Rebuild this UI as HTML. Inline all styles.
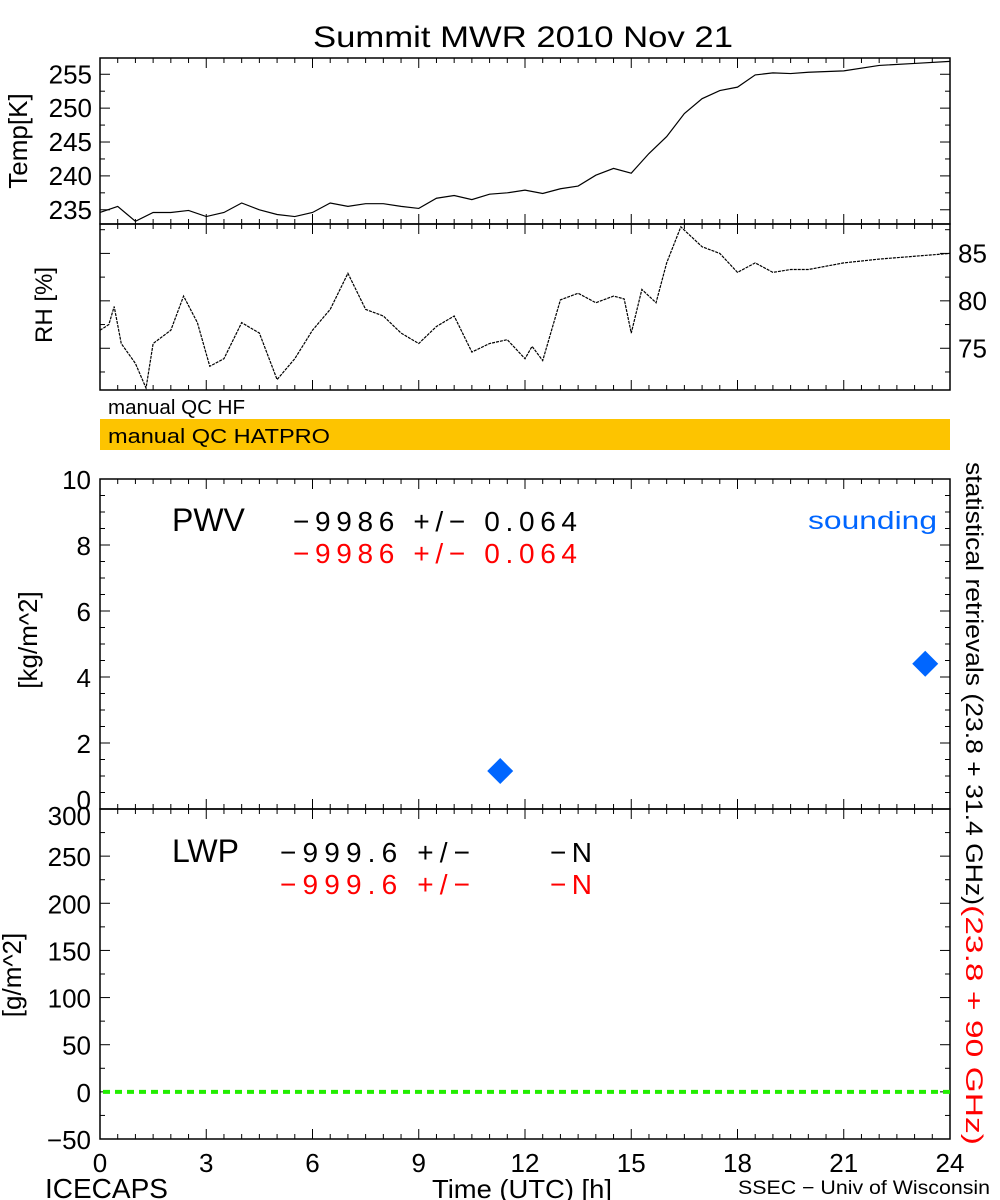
<!DOCTYPE html>
<html><head><meta charset="utf-8"><style>
body{margin:0;background:#fff;}
svg{display:block;font-family:"Liberation Sans",sans-serif;}
</style></head><body>
<svg id="c" width="1000" height="1200" viewBox="0 0 1000 1200"></svg>
<script>
// ---- data ----
const tempTimes = [0,0.5,1,1.5,2,2.5,3,3.5,4,4.5,5,5.5,6,6.5,7,7.5,8,8.5,9,9.5,10,10.5,11,11.5,12,12.5,13,13.5,14,14.5,15,15.5,16,16.5,17,17.5,18,18.5,19,19.5,20,21,22,23,24];
const tempValues = [234.6,235.5,233.3,234.6,234.6,234.9,234.0,234.6,236.0,235.0,234.3,234.0,234.6,236.0,235.5,235.9,235.9,235.5,235.2,236.7,237.1,236.5,237.3,237.5,237.9,237.4,238.1,238.5,240.1,241.1,240.4,243.3,245.8,249.2,251.4,252.6,253.1,254.9,255.2,255.1,255.3,255.5,256.3,256.6,256.9];
const rhTimes = [0,0.25,0.4,0.6,1,1.3,1.5,2,2.36,2.75,3.1,3.5,4,4.5,5,5.5,6,6.5,7,7.5,8,8.5,9,9.5,10,10.5,11,11.5,12,12.2,12.5,13,13.5,14,14.5,14.8,15,15.3,15.7,16,16.4,17,17.5,18,18.5,19,19.5,20,21,22,23,24];
const rhValues = [76.9,77.5,79.4,75.5,73.4,70.8,75.5,76.9,80.5,77.7,73.1,73.9,77.7,76.6,71.7,73.9,76.9,79.1,82.9,79.1,78.4,76.6,75.5,77.3,78.4,74.6,75.5,75.9,73.9,75.2,73.7,80.1,80.8,79.8,80.5,80.2,76.6,81.2,79.8,84.0,87.8,85.7,85.0,83.0,84.0,83.0,83.3,83.3,84.0,84.4,84.7,85.0];
const soundTimes = [11.3,23.3];
const soundPWV = [1.15,4.4];
const xTickLabels = ["0","3","6","9","12","15","18","21","24"];
const tempTickLabels = ["235","240","245","250","255"];
const rhTickLabels = ["75","80","85"];
const pwvTickLabels = ["0","2","4","6","8","10"];
const lwpTickLabels = ["-50","0","50","100","150","200","250","300"];

const NS="http://www.w3.org/2000/svg";
const svg=document.getElementById('c');
function mk(tag,attrs,parent){const e=document.createElementNS(NS,tag);for(const k in attrs)e.setAttribute(k,attrs[k]);(parent||svg).appendChild(e);return e;}
function txt(s,x,y,attrs){const e=mk('text',Object.assign({x:x,y:y,'font-size':24,fill:'#000'},attrs||{}));e.textContent=s;return e;}
const X0=100,X1=950;
const xs=h=>X0+(X1-X0)*h/24;
function yScale(v0,v1,p0,p1){return v=>p0+(v-v0)*(p1-p0)/(v1-v0);}
const yT=yScale(232.9,257.4,224,58);
const yR=yScale(70.6,88.1,390,224);
const yP=yScale(0,10,809,479);
const yL=yScale(-50,300,1139,809);

function panel(name,top,bot){
  const r=mk('rect',{x:X0,y:top,width:X1-X0,height:bot-top,fill:'none',stroke:'#000','stroke-width':1.5});
  
  
  for(let i=0;i<=48;i++){const x=xs(i/2);const L=(i%6===0)?10:5;
    mk('line',{x1:x,x2:x,y1:top,y2:top+L,stroke:'#000','stroke-width':1});
    mk('line',{x1:x,x2:x,y1:bot,y2:bot-L,stroke:'#000','stroke-width':1});}
}
function yticks(ys,side){ys.forEach(([y,maj])=>{const L=maj?10:5;
  if(side!=='r')mk('line',{x1:X0,x2:X0+L,y1:y,y2:y,stroke:'#000'});
  if(side!=='l')mk('line',{x1:X1,x2:X1-L,y1:y,y2:y,stroke:'#000'});});}

// title
const t=txt('Summit MWR 2010 Nov 21',313,47,{'font-size':30,textLength:420,lengthAdjust:'spacingAndGlyphs'});


// Temp panel
panel('temp-panel',58,224);
let tt=[];for(let v=235;v<=257.4;v+=2.5)tt.push([yT(v),(v%5===0)]);yticks(tt,'both');
tempTickLabels.forEach(s=>{const e=txt(s,92,yT(+s)+9,{'text-anchor':'end','font-size':26});});
let e=txt('Temp[K]',0,0,{'font-size':26,'text-anchor':'middle',transform:'translate(27,141) rotate(-90)'});

let tp=tempTimes.map((h,i)=>xs(h)+','+yT(tempValues[i])).join(' ');
e=mk('polyline',{points:tp,fill:'none',stroke:'#000','stroke-width':1.2});


// RH panel
panel('rh-panel',224,390);
let rt=[];for(let v=72.5;v<=88;v+=2.5)rt.push([yR(v),(v%5===0)]);yticks(rt,'both');
rhTickLabels.forEach(s=>{const e=txt(s,958,yR(+s)+9,{'font-size':26});});
e=txt('RH [%]',0,0,{'font-size':24,'text-anchor':'middle',transform:'translate(52,305) rotate(-90)'});

let rp=rhTimes.map((h,i)=>xs(h)+','+yR(rhValues[i])).join(' ');
e=mk('polyline',{points:rp,fill:'none',stroke:'#000','stroke-width':1.2,'stroke-dasharray':'3,1'});


// QC bars
e=txt('manual QC HF',108,414,{'font-size':20,textLength:137,lengthAdjust:'spacingAndGlyphs'});
e=mk('rect',{x:X0,y:419,width:X1-X0,height:31,fill:'#fdc400'});
e=txt('manual QC HATPRO',108,443,{'font-size':20,textLength:222,lengthAdjust:'spacingAndGlyphs'});

// PWV panel
panel('pwv-panel',479,809);
let pt=[];for(let v=0;v<=10;v+=0.5)pt.push([yP(v),(v%2===0)]);yticks(pt,'both');
pwvTickLabels.forEach(s=>{const e=txt(s,91,yP(+s)+(s==='0'?0:10),{'text-anchor':'end','font-size':26});});
e=txt('[kg/m^2]',0,0,{'font-size':26,'text-anchor':'middle',transform:'translate(37,640) rotate(-90)'});

e=txt('PWV',172,531,{'font-size':32});
e=txt('\u22129986 +/\u2212 0.064',293,531,{'font-size':28,textLength:284,lengthAdjust:'spacing'});
e=txt('\u22129986 +/\u2212 0.064',293,563,{'font-size':28,fill:'#ff0000',textLength:284,lengthAdjust:'spacing'});
e=txt('sounding',808,529,{'font-size':25,fill:'#0066ff',textLength:129,lengthAdjust:'spacingAndGlyphs'});
soundTimes.forEach((h,i)=>{const x=xs(h),y=yP(soundPWV[i]);
  const d=mk('polygon',{points:`${x},${y-13} ${x+13},${y} ${x},${y+13} ${x-13},${y}`,fill:'#0066ff'});
  
  });

// LWP panel
panel('lwp-panel',809,1139);
let lt=[];for(let v=-50;v<=300;v+=25)lt.push([yL(v),(v%50===0)]);yticks(lt,'both');
lwpTickLabels.forEach(s=>{const e=txt(s.replace('-','\u2212'),91,yL(+s)+(s==='300'?16:10),{'text-anchor':'end','font-size':26});});
e=txt('[g/m^2]',0,0,{'font-size':26,'text-anchor':'middle',transform:'translate(21,975) rotate(-90)'});

e=txt('LWP',172,862,{'font-size':32});
e=txt('\u2212999.6 +/\u2212',280,862,{'font-size':28,textLength:190,lengthAdjust:'spacing'});
e=txt('\u2212N',550,862,{'font-size':28,textLength:42,lengthAdjust:'spacing'});
e=txt('\u2212999.6 +/\u2212',280,894,{'font-size':28,fill:'#ff0000',textLength:190,lengthAdjust:'spacing'});
e=txt('\u2212N',550,894,{'font-size':28,fill:'#ff0000',textLength:42,lengthAdjust:'spacing'});
e=mk('line',{x1:X0+3,x2:X1,y1:yL(0),y2:yL(0),stroke:'#22ee00','stroke-width':4,'stroke-dasharray':'7,5'});


// right side rotated label
e=mk('text',{x:0,y:0,'font-size':24,transform:'translate(966,462) rotate(90)'});

const s1=mk('tspan',{fill:'#000',textLength:443,lengthAdjust:'spacingAndGlyphs'},e);s1.textContent='statistical retrievals (23.8 + 31.4 GHz)';
const s2=mk('tspan',{fill:'#ff0000',textLength:240,lengthAdjust:'spacingAndGlyphs'},e);s2.textContent='(23.8 + 90 GHz)';

// x tick labels & footer
xTickLabels.forEach(s=>{const e=txt(s,xs(+s),1172,{'text-anchor':'middle','font-size':26});});
e=txt('ICECAPS',45,1198,{'font-size':28});
e=txt('Time (UTC) [h]',432,1198,{'font-size':26,textLength:180,lengthAdjust:'spacingAndGlyphs'});
e=txt('SSEC \u2212 Univ of Wisconsin',738,1194,{'font-size':19,textLength:252,lengthAdjust:'spacingAndGlyphs'});
</script>
</body></html>
